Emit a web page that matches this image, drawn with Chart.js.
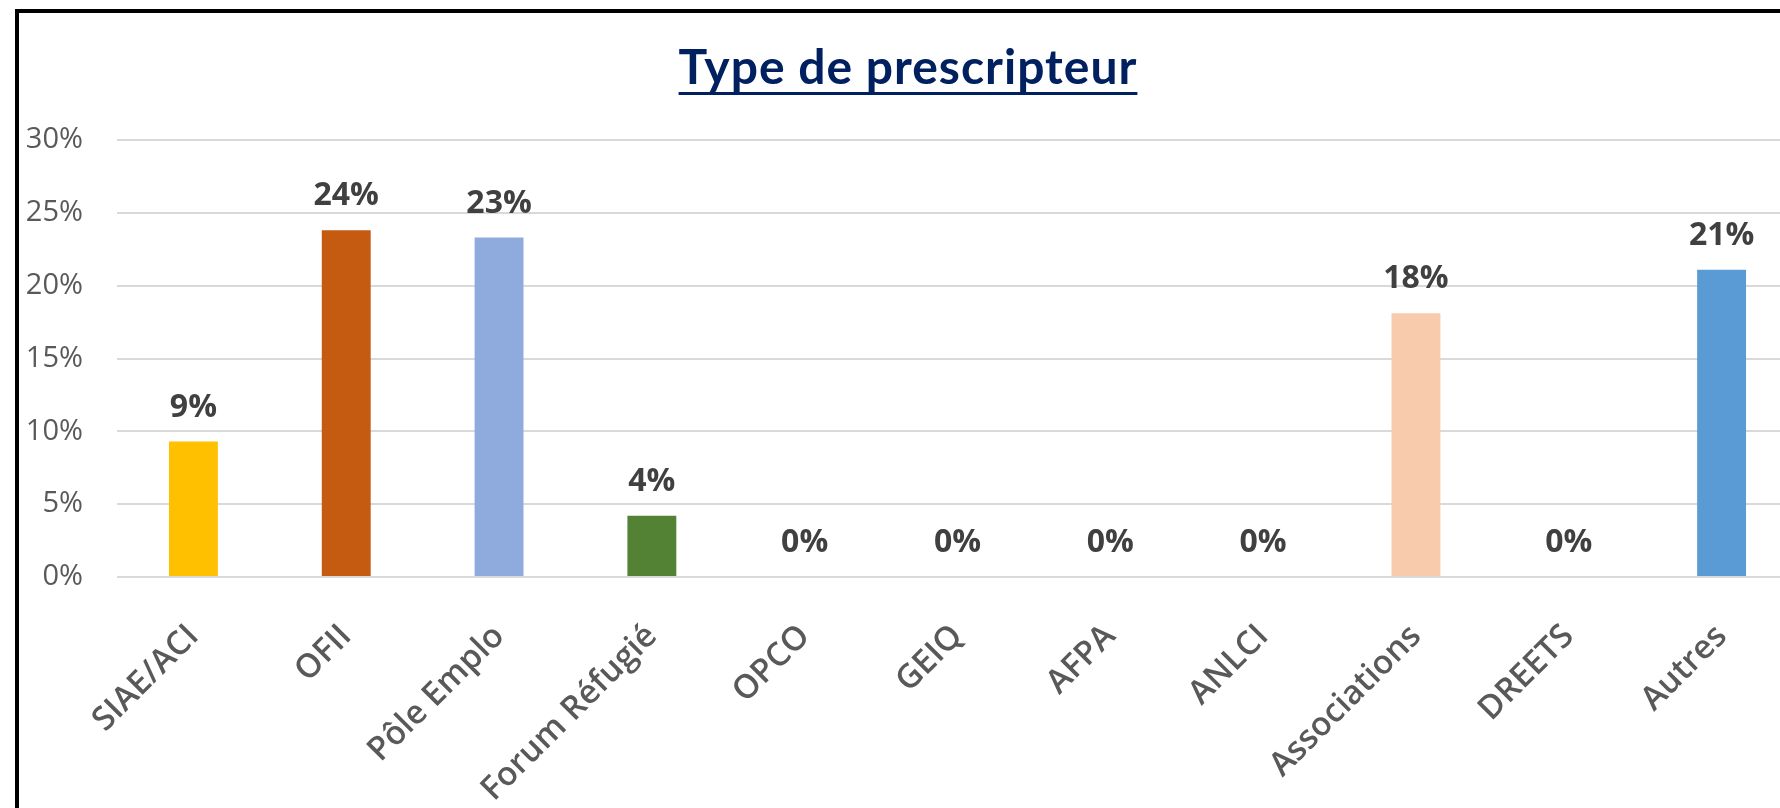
<!DOCTYPE html>
<html>
<head>
<meta charset="utf-8">
<script src="https://cdn.jsdelivr.net/npm/chart.js@4.4.1/dist/chart.umd.min.js"></script>
<style>
  html, body { margin: 0; padding: 0; width: 1780px; height: 808px; overflow: hidden; background: #ffffff; }
  #wrap { position: relative; width: 1780px; height: 808px; overflow: hidden; }
  #chart { position: absolute; left: 0; top: 0; }
  #frame { position: absolute; left: 15px; top: 9px; width: 1800px; height: 900px; border: 4px solid #000; box-sizing: border-box; pointer-events: none; }
  #title { position: absolute; left: 0; top: 42px; width: 1816px; text-align: center;
           font-family: Lato, "Open Sans", sans-serif; font-weight: 700; font-size: 48px; line-height: 48px;
           letter-spacing: 1px; color: #002060; white-space: nowrap; }
  #title span { text-decoration: underline; text-decoration-thickness: 3px; text-underline-offset: 8px; }
</style>
</head>
<body>
<div id="wrap">
  <canvas id="chart" width="1800" height="808"></canvas>
  <div id="title"><span>Type de prescripteur</span></div>
  <div id="frame"></div>
</div>
<script>
const categories = ['SIAE/ACI', 'OFII', 'Pôle Emplo', 'Forum Réfugié', 'OPCO', 'GEIQ', 'AFPA', 'ANLCI', 'Associations', 'DREETS', 'Autres'];
const values = [9.3, 23.8, 23.3, 4.2, 0, 0, 0, 0, 18.1, 0, 21.1];
const barColors = ['#FFC000', '#C55A11', '#8FAADC', '#548235', '#A5A5A5', '#4472C4', '#70AD47', '#264478', '#F8CBAD', '#9E480E', '#5B9BD5'];
const yTickValues = [0, 5, 10, 15, 20, 25, 30];

const valueLabels = {
  id: 'valueLabels',
  afterDatasetsDraw(chart) {
    const ctx = chart.ctx;
    const meta = chart.getDatasetMeta(0);
    ctx.save();
    ctx.font = '700 32px "Open Sans"';
    ctx.fillStyle = '#404040';
    ctx.textAlign = 'center';
    ctx.textBaseline = 'middle';
    meta.data.forEach((bar, i) => {
      ctx.fillText(Math.round(values[i]) + '%', bar.x, bar.y - 34);
    });
    ctx.restore();
  }
};

new Chart(document.getElementById('chart'), {
  type: 'bar',
  data: {
    labels: categories,
    datasets: [{
      data: values,
      backgroundColor: barColors,
      borderWidth: 0,
      barPercentage: 0.32,
      categoryPercentage: 1.0
    }]
  },
  options: {
    responsive: false,
    devicePixelRatio: 1,
    animation: false,
    layout: { padding: { top: 140, left: 0, right: 2, bottom: 0 } },
    plugins: { legend: { display: false }, title: { display: false }, tooltip: { enabled: false } },
    scales: {
      x: {
        grid: { display: false, drawTicks: false },
        border: { display: false },
        ticks: {
          autoSkip: false,
          maxRotation: 45,
          minRotation: 45,
          padding: 40,
          color: '#595959',
          font: { family: '"Open Sans"', size: 33, weight: 600 }
        },
        afterFit(scale) { scale.height = 231; }
      },
      y: {
        min: 0,
        max: 30,
        afterBuildTicks(scale) { scale.ticks = yTickValues.map(v => ({ value: v })); },
        grid: { color: '#d9d9d9', lineWidth: 2, drawTicks: false },
        border: { display: false },
        ticks: {
          padding: 34,
          color: '#595959',
          font: { family: '"Open Sans"', size: 29, weight: 400 },
          callback: v => v + '%'
        },
        afterFit(scale) { scale.width = 117; }
      }
    }
  },
  plugins: [valueLabels]
});
</script>
</body>
</html>
